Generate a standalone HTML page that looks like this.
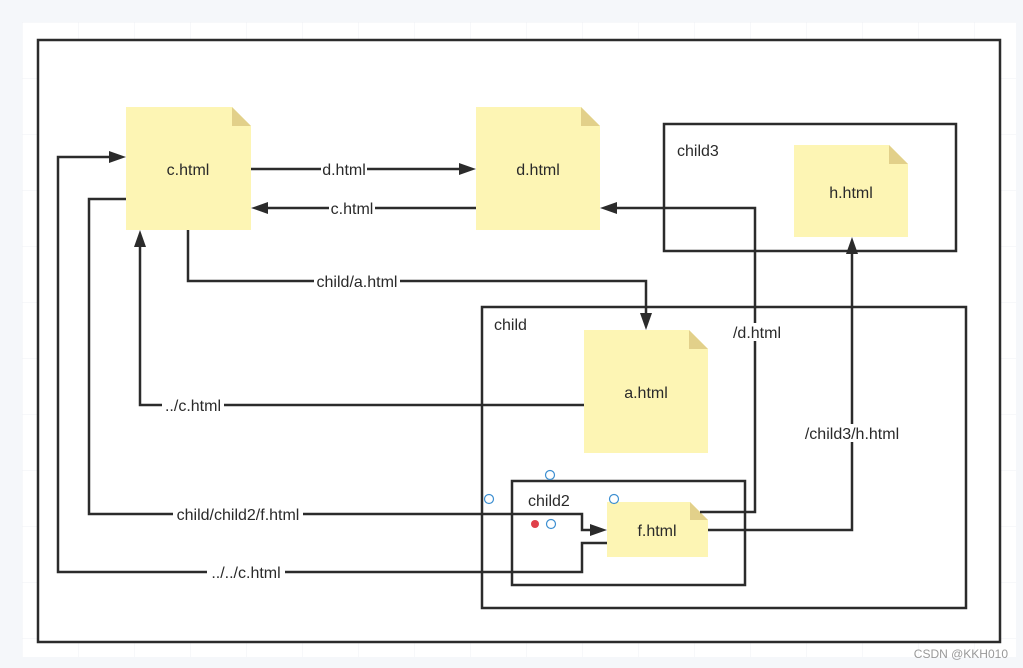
<!DOCTYPE html>
<html><head><meta charset="utf-8"><style>
html,body{margin:0;padding:0;background:#f5f7fa;}
svg{display:block;}
text{font-family:"Liberation Sans","DejaVu Sans",sans-serif;font-size:16px;fill:#2a2a2a;}
</style></head><body>
<svg width="1023" height="668" viewBox="0 0 1023 668" xmlns="http://www.w3.org/2000/svg">
<defs>
<pattern id="g" width="56" height="56" patternUnits="userSpaceOnUse" x="22" y="22">
<path d="M0 0H56M0 0V56" stroke="#eff1f4" stroke-width="1" fill="none"/>
</pattern>
</defs>
<rect x="0" y="0" width="1023" height="668" fill="#f5f7fa"/>
<rect x="22" y="22" width="994" height="635" fill="#fff"/>
<rect x="22" y="22" width="994" height="635" fill="url(#g)"/>
<rect x="38" y="40" width="962" height="602" fill="#fff" stroke="#2b2b2b" stroke-width="2.5"/>

<g fill="none" stroke="#2b2b2b" stroke-width="2.5">
<rect x="664" y="124" width="292" height="127"/>
<rect x="482" y="307" width="484" height="301"/>
<rect x="512" y="481" width="233" height="104"/>
</g>
<text x="677" y="156">child3</text>
<text x="494" y="330">child</text>
<text x="528" y="506">child2</text>

<g>
<path d="M126 107H232L251 126V230H126Z" fill="#fdf5b4"/><path d="M232 107L251 126H232Z" fill="#e2d08a"/>
<path d="M476 107H581L600 126V230H476Z" fill="#fdf5b4"/><path d="M581 107L600 126H581Z" fill="#e2d08a"/>
<path d="M794 145H889L908 164V237H794Z" fill="#fdf5b4"/><path d="M889 145L908 164H889Z" fill="#e2d08a"/>
<path d="M584 330H689L708 349V453H584Z" fill="#fdf5b4"/><path d="M689 330L708 349H689Z" fill="#e2d08a"/>
<path d="M607 502H690L708 520V557H607Z" fill="#fdf5b4"/><path d="M690 502L708 520H690Z" fill="#e2d08a"/>
</g>
<text x="188" y="175" text-anchor="middle">c.html</text>
<text x="538" y="175" text-anchor="middle">d.html</text>
<text x="851" y="198" text-anchor="middle">h.html</text>
<text x="646" y="398" text-anchor="middle">a.html</text>
<text x="657" y="536" text-anchor="middle">f.html</text>

<g fill="none" stroke="#2b2b2b" stroke-width="2.5">
<path d="M251 169H464"/>
<path d="M476 208H263"/>
<path d="M188 230V281H646V318"/>
<path d="M584 405H140V242"/>
<path d="M126 199H89V514H582V530H595"/>
<path d="M607 543H582V572H58V157H114"/>
<path d="M700 512H755V208H612"/>
<path d="M708 530H852V249"/>
</g>
<g fill="#2b2b2b">
<path d="M476 169L459 163V175Z"/>
<path d="M251 208L268 202V214Z"/>
<path d="M646 330L640 313H652Z"/>
<path d="M140 230L134 247H146Z"/>
<path d="M607 530L590 524V536Z"/>
<path d="M126 157L109 151V163Z"/>
<path d="M600 208L617 202V214Z"/>
<path d="M852 237L846 254H858Z"/>
</g>
<g fill="#fff">
<rect x="321" y="160" width="46" height="18"/>
<rect x="329" y="199" width="46" height="18"/>
<rect x="314" y="272" width="86" height="18"/>
<rect x="162" y="396" width="62" height="18"/>
<rect x="173" y="505" width="130" height="18"/>
<rect x="207" y="563" width="78" height="18"/>
<rect x="731" y="323" width="52" height="18"/>
<rect x="803" y="424" width="98" height="18"/>
</g>
<text x="344" y="175" text-anchor="middle">d.html</text>
<text x="352" y="214" text-anchor="middle">c.html</text>
<text x="357" y="287" text-anchor="middle">child/a.html</text>
<text x="193" y="411" text-anchor="middle">../c.html</text>
<text x="238" y="520" text-anchor="middle">child/child2/f.html</text>
<text x="246" y="578" text-anchor="middle">../../c.html</text>
<text x="757" y="338" text-anchor="middle">/d.html</text>
<text x="852" y="439" text-anchor="middle">/child3/h.html</text>

<g fill="#fff" stroke="#3d8fd1" stroke-width="1.2">
<circle cx="550" cy="475" r="4.5"/>
<circle cx="489" cy="499" r="4.5"/>
<circle cx="614" cy="499" r="4.5"/>
<circle cx="551" cy="524" r="4.5"/>
</g>
<circle cx="535" cy="524" r="4" fill="#e0404a"/>
<text x="1008" y="658" text-anchor="end" style="font-size:12px;fill:#999">CSDN @KKH010</text>
</svg>
</body></html>
